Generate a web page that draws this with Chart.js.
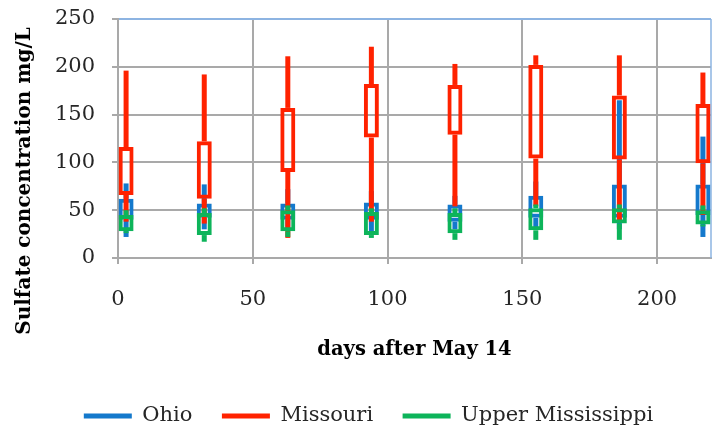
<!DOCTYPE html>
<html>
<head>
<meta charset="utf-8">
<script src="https://cdn.jsdelivr.net/npm/chart.js@4.4.1/dist/chart.umd.min.js"></script>
<style>
  html, body { margin: 0; padding: 0; background: #fff; }
  #wrap { width: 712px; height: 430px; }
</style>
</head>
<body>
<div id="wrap"><canvas id="sulfateChart" width="712" height="430"></canvas></div>
<script>
// sampling days (days after May 14)
const days = [3, 32, 63, 94, 125, 155, 186, 217];

// Ohio: low, box bottom, box top, high (mg/L)
const ohioLow  = [22, 30, 30, 28, 30, 32, 30, 22];
const ohioQ1   = [40, 42, 40, 40, 38, 42, 42, 45];
const ohioQ3   = [62, 57, 57, 58, 56, 65, 77, 77];
const ohioHigh = [78, 77, 72, 70, 65, 80, 165, 127];

// Missouri
const missLow  = [38, 36, 21, 38, 54, 54, 38, 45];
const missQ1   = [66, 62, 90, 126, 129, 104, 103, 99];
const missQ3   = [116, 122, 157, 182, 181, 202, 170, 161];
const missHigh = [196, 192, 211, 221, 203, 212, 212, 194];

// Upper Mississippi
const umLow  = [26, 17, 22, 21, 19, 19, 19, 33];
const umQ1   = [28, 24, 28, 24, 26, 29, 36, 35];
const umQ3   = [45, 47, 50, 48, 47, 52, 52, 50];
const umHigh = [50, 52, 55, 52, 52, 56, 56, 55];

const seriesNames = ['Ohio', 'Missouri', 'Upper Mississippi'];
const seriesColors = ['#1479cc', '#ff2200', '#0db45a'];
const yTicks = [0, 50, 100, 150, 200, 250];
const xTicks = [0, 50, 100, 150, 200];

const gridGray = '#a9a9a9';
const frameBlue = '#8db4e2';

// whiskers + hollow box for one series
function boxDatasets(name, color, low, q1, q3, high, order) {
  const common = { grouped: false, borderSkipped: false, inflateAmount: 0, order: order };
  return [
    Object.assign({
      label: name + ' high',
      data: days.map((d, i) => ({ x: d, y: [q3[i], high[i]] })),
      backgroundColor: color, borderWidth: 0, barThickness: 5
    }, common),
    Object.assign({
      label: name + ' low',
      data: days.map((d, i) => ({ x: d, y: [low[i], q1[i]] })),
      backgroundColor: color, borderWidth: 0, barThickness: 5
    }, common),
    Object.assign({
      label: name,
      data: days.map((d, i) => ({ x: d, y: [q1[i], q3[i]] })),
      backgroundColor: 'rgba(0,0,0,0)', borderColor: color, borderWidth: 4, barThickness: 15
    }, common)
  ];
}

// y axis title sits lower than the plot middle, so draw it by hand
const yTitle = {
  id: 'yTitle',
  afterDraw(chart) {
    const ctx = chart.ctx;
    ctx.save();
    ctx.translate(25, 181);
    ctx.rotate(-Math.PI / 2);
    ctx.font = 'bold 20px "DejaVu Serif"';
    ctx.fillStyle = '#000';
    ctx.textAlign = 'center';
    ctx.textBaseline = 'middle';
    ctx.fillText('Sulfate concentration mg/L', 0, 0);
    ctx.restore();
  }
};

// right edge of the plot frame
const frameRight = {
  id: 'frameRight',
  beforeDatasetsDraw(chart) {
    const { ctx, chartArea: a } = chart;
    ctx.save();
    ctx.strokeStyle = frameBlue;
    ctx.lineWidth = 1.5;
    ctx.beginPath();
    ctx.moveTo(a.right, a.top);
    ctx.lineTo(a.right, a.bottom);
    ctx.stroke();
    ctx.restore();
  }
};

const datasets = [].concat(
  boxDatasets(seriesNames[0], seriesColors[0], ohioLow, ohioQ1, ohioQ3, ohioHigh, 3),
  boxDatasets(seriesNames[1], seriesColors[1], missLow, missQ1, missQ3, missHigh, 2),
  boxDatasets(seriesNames[2], seriesColors[2], umLow, umQ1, umQ3, umHigh, 1)
);

const ctx = document.getElementById('sulfateChart').getContext('2d');
new Chart(ctx, {
  type: 'bar',
  data: { datasets: datasets },
  options: {
    responsive: false,
    animation: false,
    layout: { padding: { left: 26, right: 1, top: 19, bottom: -6.5 } },
    plugins: {
      tooltip: { enabled: false },
      legend: {
        position: 'bottom',
        labels: {
          font: { family: 'DejaVu Serif', size: 21 },
          color: '#262626',
          boxWidth: 48,
          boxHeight: 5,
          padding: 29.5,
          generateLabels: () => seriesNames.map((name, i) => ({
            text: name,
            fillStyle: seriesColors[i],
            strokeStyle: seriesColors[i],
            lineWidth: 0,
            fontColor: '#262626',
            hidden: false
          }))
        }
      }
    },
    scales: {
      x: {
        type: 'linear',
        min: 0,
        max: 220,
        offset: false,
        afterBuildTicks: (scale) => { scale.ticks = xTicks.map(v => ({ value: v })); },
        ticks: {
          padding: 23.4,
          color: '#262626',
          font: { family: 'DejaVu Serif', size: 21 }
        },
        grid: { offset: false, color: gridGray, lineWidth: 2, tickLength: 6, tickColor: gridGray },
        border: { color: gridGray, width: 2 },
        title: {
          display: true,
          text: 'days after May 14',
          color: '#000',
          font: { family: 'DejaVu Serif', size: 19.5, weight: 'bold' },
          padding: { top: 2.3, bottom: 14.3 }
        }
      },
      y: {
        min: 0,
        max: 250,
        afterBuildTicks: (scale) => { scale.ticks = yTicks.map(v => ({ value: v })); },
        afterFit: (scale) => {
          scale.width = 92;
          scale.paddingTop = 12;
          scale.paddingBottom = 12;
        },
        ticks: {
          padding: 17,
          color: '#262626',
          font: { family: 'DejaVu Serif', size: 21 }
        },
        grid: {
          color: (c) => (c.tick && c.tick.value === 250 ? frameBlue : gridGray),
          lineWidth: 2,
          tickLength: 6,
          tickColor: gridGray
        },
        border: { color: gridGray, width: 2 }
      }
    }
  },
  plugins: [yTitle, frameRight]
});
</script>
</body>
</html>
